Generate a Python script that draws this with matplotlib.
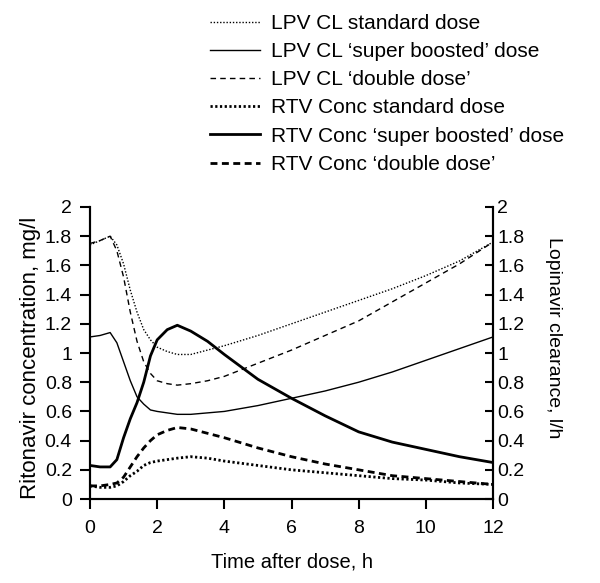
import numpy as np
import matplotlib
matplotlib.use('Agg')
from matplotlib import pyplot as plt
from matplotlib.ticker import FuncFormatter

plt.rcParams['font.family'] = ['Liberation Sans', 'DejaVu Sans']

# time after dose, h
time_h = [0, 0.3, 0.6, 0.8, 1.0, 1.2, 1.4, 1.6, 1.8, 2.0, 2.3, 2.6, 3.0, 3.5,
          4, 5, 6, 7, 8, 9, 10, 11, 12]

# lopinavir clearance, l/h
lpv_cl_standard = [1.74, 1.77, 1.80, 1.74, 1.61, 1.43, 1.28, 1.16, 1.09, 1.04, 1.01, 0.99,
                   0.99, 1.02, 1.05, 1.12, 1.20, 1.28, 1.36, 1.44, 1.53, 1.63, 1.76]
lpv_cl_super = [1.11, 1.12, 1.14, 1.07, 0.94, 0.81, 0.70, 0.65, 0.61, 0.60, 0.59, 0.58,
                0.58, 0.59, 0.60, 0.64, 0.69, 0.74, 0.80, 0.87, 0.95, 1.03, 1.11]
lpv_cl_double = [1.75, 1.77, 1.80, 1.70, 1.52, 1.28, 1.08, 0.94, 0.86, 0.81, 0.79, 0.78,
                 0.79, 0.81, 0.84, 0.93, 1.02, 1.12, 1.22, 1.35, 1.48, 1.61, 1.76]

# ritonavir concentration, mg/l
rtv_standard = [0.09, 0.08, 0.08, 0.09, 0.12, 0.16, 0.19, 0.23, 0.25, 0.26, 0.27, 0.28,
                0.29, 0.28, 0.26, 0.23, 0.20, 0.18, 0.16, 0.14, 0.13, 0.11, 0.10]
rtv_super = [0.23, 0.22, 0.22, 0.27, 0.42, 0.55, 0.66, 0.80, 0.98, 1.09, 1.16, 1.19,
             1.15, 1.08, 0.99, 0.82, 0.69, 0.57, 0.46, 0.39, 0.34, 0.29, 0.25]
rtv_double = [0.09, 0.09, 0.10, 0.11, 0.15, 0.22, 0.29, 0.35, 0.40, 0.44, 0.47, 0.49,
              0.48, 0.45, 0.42, 0.35, 0.29, 0.24, 0.20, 0.16, 0.14, 0.12, 0.10]

labels = [
    "LPV CL standard dose",
    "LPV CL \u2018super boosted\u2019 dose",
    "LPV CL \u2018double dose\u2019",
    "RTV Conc standard dose",
    "RTV Conc \u2018super boosted\u2019 dose",
    "RTV Conc \u2018double dose\u2019",
]

fig = plt.figure(figsize=(6.0, 5.83), dpi=100)
ax = fig.add_axes([0.15, 0.144, 0.6717, 0.501])
ax2 = ax.twinx()

h = []
h += ax2.plot(time_h, lpv_cl_standard, color='k', lw=1.0, ls=(0, (1, 1.3)))
h += ax2.plot(time_h, lpv_cl_super, color='k', lw=1.0, ls='-')
h += ax2.plot(time_h, lpv_cl_double, color='k', lw=1.0, ls=(0, (4, 3)))
h += ax.plot(time_h, rtv_standard, color='k', lw=2.0, ls=(0, (0.8, 0.9)))
h += ax.plot(time_h, rtv_super, color='k', lw=2.0, ls='-')
h += ax.plot(time_h, rtv_double, color='k', lw=2.0, ls=(0, (2.5, 1.6)))

fmt = FuncFormatter(lambda v, p: f"{v:g}")
for a in (ax, ax2):
    a.set_ylim(0, 2)
    a.set_yticks(np.arange(0, 2.01, 0.2))
    a.yaxis.set_major_formatter(fmt)
    a.spines['top'].set_visible(False)
    for s in a.spines.values():
        s.set_linewidth(1.5)
ax.tick_params(axis='y', direction='out', length=7, width=1.5, labelsize=14, pad=6)
ax.tick_params(axis='x', direction='out', length=7, width=1.5, labelsize=14, pad=8)
ax2.tick_params(direction='in', length=6, width=1.5, labelsize=14, pad=3)

ax.set_xlim(0, 12)
ax.set_xticks(range(0, 13, 2))
ax.set_xlabel("Time after dose, h", fontsize=14.5, labelpad=11)
ax.set_ylabel("Ritonavir concentration, mg/l", fontsize=16, labelpad=3)
ax.yaxis.label.set_y(0.483)
ax2.set_ylabel("Lopinavir clearance, l/h", fontsize=14, rotation=270, labelpad=27)
ax2.yaxis.label.set_y(0.551)

fig.legend(h, labels, loc='upper left', bbox_to_anchor=(0.35, 0.976),
           frameon=False, fontsize=15, handlelength=2.4, handletextpad=0.55,
           labelspacing=0.44, borderpad=0, borderaxespad=0)

fig.savefig('out.png', dpi=100)
